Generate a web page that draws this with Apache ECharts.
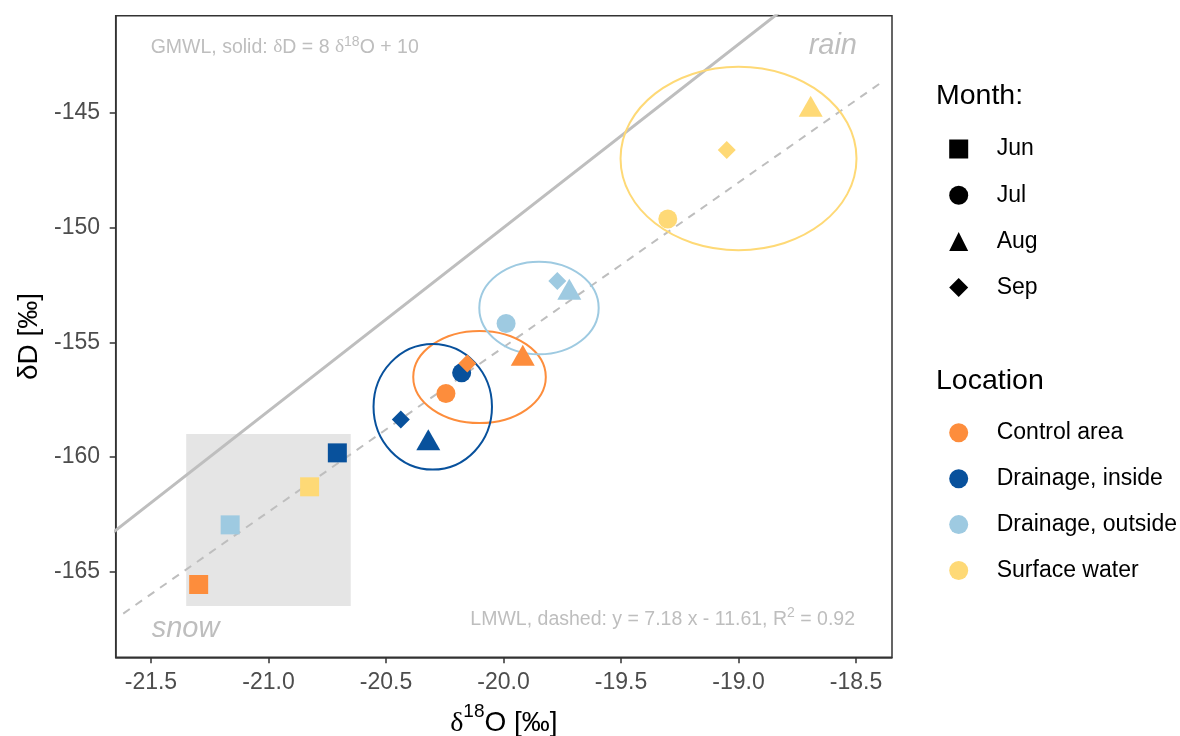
<!DOCTYPE html>
<html><head><meta charset="utf-8">
<script src="https://cdn.jsdelivr.net/npm/echarts@6/dist/echarts.min.js"></script>
<style>html,body{margin:0;padding:0;background:#fff}#c{width:1180px;height:736px}</style>
</head><body><div id="c"></div>
<script>
const FONT = 'Liberation Sans, Arial, sans-serif';
const SERIF = 'Liberation Serif, Times New Roman, serif';

const locations = ['Control area', 'Drainage, inside', 'Drainage, outside', 'Surface water'];
const locColors = ['#FD8D3C', '#08519C', '#9ECAE1', '#FED976'];
const months = ['Jun', 'Jul', 'Aug', 'Sep'];
const monthSymbols = ['rect', 'circle', 'triangle', 'diamond'];

// values per location (same order as locations)
const junX = [-21.297, -20.707, -21.163, -20.825];
const junY = [-165.56, -159.82, -162.96, -161.30];
const julX = [-20.245, -20.178, -19.989, -19.301];
const julY = [-157.23, -156.33, -154.18, -149.62];
const augX = [-19.918, -20.320, -19.720, -18.693];
const augY = [-155.72, -159.40, -152.84, -144.86];
const sepX = [-20.154, -20.437, -19.771, -19.050];
const sepY = [-155.92, -158.36, -152.32, -146.61];

// ellipse centre and half-widths per location (data units)
const ellCX = [-20.102, -20.301, -19.849, -19.000];
const ellCY = [-156.51, -157.81, -153.50, -146.98];
const ellRX = [0.282, 0.252, 0.254, 0.502];
const ellRY = [2.01, 2.74, 2.02, 4.00];

// reference lines
const gmwlX = [-21.7, -18.6];
const gmwlY = [-163.6, -138.8];
const lmwlX = [-21.618, -18.386];
const lmwlY = [-166.83, -143.62];

// snow box
const snowX = [-21.35, -20.65];
const snowY = [-166.5, -159.0];

const xTicks = [-21.5, -21.0, -20.5, -20.0, -19.5, -19.0, -18.5];
const yTicks = [-165, -160, -155, -150, -145];
const xRange = [-21.65, -18.347];
const yRange = [-168.735, -140.755];

const monthX = [junX, julX, augX, sepX];
const monthY = [junY, julY, augY, sepY];
const symSizes = [19, 19, [24, 21], 18];
const symOffsets = [[0, 0], [0, 0], [0, -3.5], [0, 0]];

const chart = echarts.init(document.getElementById('c'));

const series = [];
series.push({
  type: 'line', name: 'GMWL', data: [[gmwlX[0], gmwlY[0]], [gmwlX[1], gmwlY[1]]],
  symbol: 'none', clip: true, silent: true, z: 2,
  lineStyle: {color: '#BEBEBE', width: 3},
  markArea: {silent: true, itemStyle: {color: '#E5E5E5'},
    data: [[{coord: [snowX[0], snowY[1]]}, {coord: [snowX[1], snowY[0]]}]]}
});
series.push({
  type: 'line', name: 'LMWL', data: [[lmwlX[0], lmwlY[0]], [lmwlX[1], lmwlY[1]]],
  symbol: 'none', clip: true, silent: true, z: 2,
  lineStyle: {color: '#BEBEBE', width: 2, type: [8, 7]}
});
series.push({
  type: 'custom', name: 'ellipses', silent: true, z: 3,
  data: locations.map((l, i) => [ellCX[i], ellCY[i], ellRX[i], ellRY[i], i]),
  encode: {x: 0, y: 1},
  renderItem: function (params, api) {
    const c = api.coord([api.value(0), api.value(1)]);
    const s = api.size([api.value(2), api.value(3)]);
    return {
      type: 'ellipse',
      shape: {cx: c[0], cy: c[1], rx: s[0], ry: s[1]},
      style: {fill: 'none', stroke: locColors[api.value(4)], lineWidth: 2}
    };
  }
});
months.forEach((m, k) => {
  series.push({
    type: 'scatter', name: m, symbol: monthSymbols[k], symbolSize: symSizes[k],
    symbolOffset: symOffsets[k], z: 4,
    itemStyle: {color: '#000', opacity: 1},
    data: locations.map((l, i) => ({value: [monthX[k][i], monthY[k][i]], itemStyle: {color: locColors[i], opacity: 1}}))
  });
});
locations.forEach((l, i) => {
  series.push({type: 'scatter', name: l, symbol: 'circle', itemStyle: {color: locColors[i], opacity: 1}, data: []});
});

const legendCommon = {
  orient: 'vertical', left: 949.2, itemWidth: 19, itemHeight: 19, padding: 0,
  selectedMode: false,
  textStyle: {fontSize: 23, color: '#000', fontFamily: FONT, padding: [0, 0, 0, 23.5]}
};

const option = {
  animation: false,
  backgroundColor: '#fff',
  grid: {left: 115.7, right: 288, top: 15.7, bottom: 78.7, show: true,
    outerBoundsMode: 'none', containLabel: false,
    borderColor: '#333', borderWidth: 1.5, backgroundColor: 'transparent'},
  xAxis: {
    type: 'value', min: xRange[0], max: xRange[1],
    splitLine: {show: false},
    axisLine: {show: true, onZero: false, lineStyle: {color: '#333', width: 1.5}},
    axisTick: {show: true, customValues: xTicks, length: 6, lineStyle: {color: '#333', width: 1.5}},
    axisLabel: {customValues: xTicks, formatter: v => v.toFixed(1), fontSize: 23,
      color: '#4D4D4D', margin: 14, fontFamily: FONT},
    name: '{d|δ}{s|18}{t|O [‰]}', nameLocation: 'middle', nameGap: 45,
    nameTextStyle: {fontFamily: FONT, fontSize: 28, color: '#000', rich: {
      t: {fontSize: 28, fontFamily: FONT, color: '#000', lineHeight: 42},
      d: {fontSize: 28, fontFamily: SERIF, color: '#000', lineHeight: 42},
      s: {fontSize: 19, fontFamily: FONT, color: '#000', lineHeight: 19, verticalAlign: 'top'}
    }}
  },
  yAxis: {
    type: 'value', min: yRange[0], max: yRange[1],
    splitLine: {show: false},
    axisLine: {show: true, onZero: false, lineStyle: {color: '#333', width: 1.5}},
    axisTick: {show: true, customValues: yTicks, length: 6, lineStyle: {color: '#333', width: 1.5}},
    axisLabel: {customValues: yTicks, formatter: v => String(Math.round(v)), fontSize: 23,
      color: '#4D4D4D', margin: 15.7, fontFamily: FONT},
    name: 'δD [‰]', nameLocation: 'middle', nameGap: 71, nameRotate: 90,
    nameTextStyle: {fontFamily: FONT, fontSize: 28, color: '#000'}
  },
  legend: [
    Object.assign({}, legendCommon, {data: months, top: 137.5, itemGap: 23.2}),
    Object.assign({}, legendCommon, {data: locations, top: 421.3, itemGap: 22.9})
  ],
  graphic: [
    {type: 'text', x: 936, y: 96, silent: true,
      style: {text: 'Month:', fontSize: 28.5, fontFamily: FONT, fill: '#000', align: 'left', verticalAlign: 'middle', textAlign: 'left', textVerticalAlign: 'middle'}},
    {type: 'text', x: 936, y: 381, silent: true,
      style: {text: 'Location', fontSize: 28.5, fontFamily: FONT, fill: '#000', align: 'left', verticalAlign: 'middle', textAlign: 'left', textVerticalAlign: 'middle'}},
    {type: 'text', x: 150.7, y: 47.2, silent: true,
      style: {text: '{t|GMWL, solid: }{g|δ}{t|D = 8 }{g|δ}{s|18}{t|O + 10}', align: 'left', verticalAlign: 'middle', textAlign: 'left', textVerticalAlign: 'middle',
        rich: {
          t: {fontSize: 19.5, fontFamily: FONT, fill: '#BEBEBE', color: '#BEBEBE', lineHeight: 24},
          g: {fontSize: 19.5, fontFamily: SERIF, fill: '#BEBEBE', color: '#BEBEBE', lineHeight: 24},
          s: {fontSize: 14, fontFamily: FONT, fill: '#BEBEBE', color: '#BEBEBE', lineHeight: 14, verticalAlign: 'top'}
        }}},
    {type: 'text', x: 855, y: 620, silent: true,
      style: {text: '{t|LMWL, dashed: y = 7.18 x - 11.61, R}{s|2}{t| = 0.92}', align: 'right', verticalAlign: 'middle', textAlign: 'right', textVerticalAlign: 'middle',
        rich: {
          t: {fontSize: 19.5, fontFamily: FONT, fill: '#BEBEBE', color: '#BEBEBE', lineHeight: 27},
          s: {fontSize: 14, fontFamily: FONT, fill: '#BEBEBE', color: '#BEBEBE', lineHeight: 14, verticalAlign: 'top'}
        }}},
    {type: 'text', x: 857, y: 46, silent: true,
      style: {text: 'rain', fontSize: 29, fontStyle: 'italic', fontFamily: FONT, fill: '#BEBEBE', align: 'right', verticalAlign: 'middle', textAlign: 'right', textVerticalAlign: 'middle'}},
    {type: 'text', x: 151.7, y: 629.3, silent: true,
      style: {text: 'snow', fontSize: 29, fontStyle: 'italic', fontFamily: FONT, fill: '#BEBEBE', align: 'left', verticalAlign: 'middle', textAlign: 'left', textVerticalAlign: 'middle'}}
  ],
  series: series
};
chart.setOption(option);
</script>
</body></html>
